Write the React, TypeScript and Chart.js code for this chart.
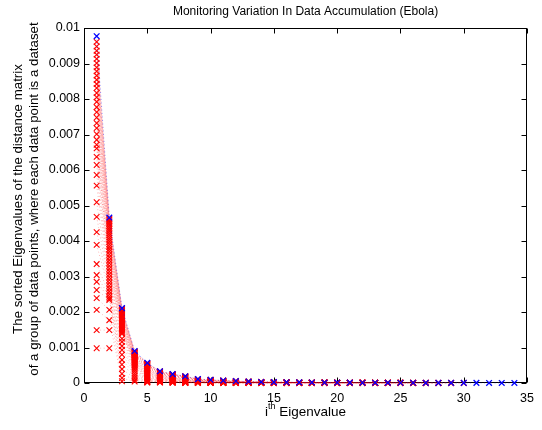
import React, { useEffect, useRef } from "react";
import { Chart, registerables } from "chart.js";

Chart.register(...registerables);

// ---------- text ----------
const chartTitle = "Monitoring Variation In Data Accumulation (Ebola)";
const yTitleLine1 = "The sorted Eigenvalues of the distance matrix";
const yTitleLine2 = "of a group of data points, where each data point is a dataset";
const xTitleBase = "i";
const xTitleSup = "th";
const xTitleRest = " Eigenvalue";

// ---------- ticks ----------
const xTickValues = [0, 5, 10, 15, 20, 25, 30, 35];
const yTickValues = [0, 0.001, 0.002, 0.003, 0.004, 0.005, 0.006, 0.007, 0.008, 0.009, 0.01];

// all eigenvalues below are in units of 1e-4
const valueUnit = 1e-4;

// final (blue) dataset: 34 sorted eigenvalues
const finalEigenvalues = [
  97.7, 46.6, 21.1, 9.0, 5.7, 3.3, 2.5, 1.9, 1.1, 0.9, 0.7, 0.55, 0.4, 0.3, 0.25, 0.2, 0.18,
  0.15, 0.13, 0.12, 0.1, 0.09, 0.08, 0.07, 0.06, 0.05, 0.045, 0.04, 0.035, 0.03, 0.025, 0.02,
  0.015, 0.01,
];

// intermediate (red) datasets: k-th sorted eigenvalue of each dataset (one entry per dataset)
const eig01 = [96.1, 94.8, 93.6, 92.5, 91.3, 90.1, 88.9, 87.8, 86.6, 85.4, 84.2, 83.1, 81.7, 80.5, 79.2, 77.7, 76.3, 74.8, 73.2, 71.8, 70.1, 68.5, 67.1, 66.1, 63.7, 61.4, 58.6, 55.6, 50.9, 46.8, 42.5, 38.9, 33.5, 30.4, 28.5, 26.2, 23.9, 20.6, 14.9, 9.8];
const eig02 = [46.3, 46.0, 45.6, 45.2, 44.8, 44.3, 43.8, 43.3, 42.8, 42.2, 41.6, 41.0, 40.4, 39.8, 39.1, 38.4, 37.7, 37.0, 36.2, 35.4, 34.6, 33.8, 33.0, 32.2, 31.4, 30.6, 29.8, 29.0, 28.2, 27.4, 26.6, 25.8, 25.0, 24.3, 23.8, 23.4, 20.6, 17.7, 14.9, 9.8];
const eig03 = [21.0, 20.8, 20.6, 20.4, 20.2, 20.0, 19.8, 19.5, 19.2, 18.9, 18.6, 18.3, 18.0, 17.7, 17.4, 17.1, 16.8, 16.5, 16.2, 15.9, 15.6, 15.3, 15.0, 14.7, 14.4, 14.1, 13.8, 12.5, 11.6, 10.4, 9.3, 8.0, 6.5, 5.2, 3.9, 2.6, 1.4, 0.5];
const eig04 = [8.9, 8.8, 8.7, 8.6, 8.5, 8.4, 8.3, 8.2, 8.0, 7.9, 7.8, 7.6, 7.5, 7.3, 7.2, 7.0, 6.9, 6.7, 6.6, 6.4, 6.2, 6.0, 5.9, 5.7, 5.5, 5.3, 5.1, 4.9, 4.6, 4.2, 3.7, 3.2, 2.6, 2.0, 1.4, 0.8, 0.4];
const eig05 = [5.6, 5.5, 5.4, 5.3, 5.2, 5.1, 5.0, 4.9, 4.8, 4.6, 4.5, 4.3, 4.2, 4.0, 3.9, 3.7, 3.5, 3.3, 3.1, 2.9, 2.7, 2.5, 2.3, 2.1, 1.9, 1.7, 1.5, 1.3, 1.1, 0.9, 0.7, 0.5, 0.4, 0.3, 0.2, 0.1];
const eig06 = [3.3, 3.2, 3.2, 3.1, 3.0, 2.9, 2.9, 2.8, 2.7, 2.6, 2.5, 2.4, 2.3, 2.2, 2.1, 2.0, 1.9, 1.8, 1.7, 1.6, 1.5, 1.4, 1.3, 1.2, 1.1, 1.0, 0.9, 0.8, 0.6, 0.5, 0.4, 0.3, 0.2, 0.1];
const eig07 = [2.5, 2.4, 2.4, 2.3, 2.3, 2.2, 2.1, 2.0, 2.0, 1.9, 1.8, 1.7, 1.6, 1.5, 1.4, 1.3, 1.2, 1.1, 1.0, 0.9, 0.8, 0.7, 0.6, 0.5, 0.45, 0.4, 0.35, 0.3, 0.2, 0.15, 0.1, 0.05];
const eig08 = [1.9, 1.85, 1.8, 1.75, 1.7, 1.6, 1.5, 1.45, 1.4, 1.3, 1.2, 1.1, 1.0, 0.95, 0.9, 0.8, 0.7, 0.6, 0.5, 0.45, 0.4, 0.35, 0.3, 0.25, 0.2, 0.15, 0.12, 0.1, 0.08, 0.05, 0.02];
const eig09 = [1.1, 1.05, 1.0, 0.95, 0.9, 0.85, 0.8, 0.75, 0.7, 0.65, 0.6, 0.55, 0.5, 0.45, 0.4, 0.35, 0.3, 0.28, 0.25, 0.22, 0.2, 0.17, 0.15, 0.12, 0.1, 0.08, 0.06, 0.04, 0.02];
const eig10 = [0.9, 0.85, 0.8, 0.75, 0.7, 0.65, 0.6, 0.55, 0.5, 0.45, 0.4, 0.36, 0.32, 0.28, 0.25, 0.22, 0.2, 0.18, 0.16, 0.14, 0.12, 0.1, 0.08, 0.06, 0.05, 0.04, 0.03, 0.02];
const eig11 = [0.7, 0.66, 0.62, 0.58, 0.54, 0.5, 0.46, 0.42, 0.38, 0.34, 0.3, 0.27, 0.24, 0.21, 0.18, 0.16, 0.14, 0.12, 0.1, 0.08, 0.07, 0.06, 0.05, 0.04, 0.03, 0.02, 0.01];
const eig12 = [0.55, 0.52, 0.49, 0.46, 0.43, 0.4, 0.37, 0.34, 0.31, 0.28, 0.25, 0.22, 0.2, 0.18, 0.16, 0.14, 0.12, 0.1, 0.08, 0.07, 0.06, 0.05, 0.04, 0.03, 0.02, 0.01];
const eig13 = [0.4, 0.38, 0.36, 0.34, 0.32, 0.3, 0.28, 0.26, 0.24, 0.22, 0.2, 0.18, 0.16, 0.14, 0.12, 0.1, 0.09, 0.08, 0.07, 0.06, 0.05, 0.04, 0.03, 0.02, 0.01];
const eig14 = [0.3, 0.28, 0.27, 0.26, 0.24, 0.22, 0.2, 0.18, 0.16, 0.15, 0.14, 0.12, 0.1, 0.09, 0.08, 0.07, 0.06, 0.05, 0.04, 0.03, 0.02, 0.015, 0.01, 0.005];
const eig15 = [0.25, 0.24, 0.23, 0.22, 0.2, 0.18, 0.16, 0.15, 0.14, 0.12, 0.1, 0.09, 0.08, 0.07, 0.06, 0.05, 0.04, 0.03, 0.025, 0.02, 0.015, 0.01, 0.005];
const eig16 = [0.2, 0.19, 0.18, 0.17, 0.16, 0.15, 0.14, 0.12, 0.11, 0.1, 0.09, 0.08, 0.07, 0.06, 0.05, 0.04, 0.03, 0.025, 0.02, 0.015, 0.01, 0.005];
const eig17 = [0.18, 0.17, 0.16, 0.15, 0.14, 0.13, 0.12, 0.11, 0.1, 0.09, 0.08, 0.07, 0.06, 0.05, 0.04, 0.03, 0.025, 0.02, 0.015, 0.01, 0.005];
const eig18 = [0.15, 0.14, 0.13, 0.12, 0.11, 0.1, 0.09, 0.08, 0.07, 0.06, 0.05, 0.045, 0.04, 0.035, 0.03, 0.025, 0.02, 0.015, 0.01, 0.005];
const eig19 = [0.13, 0.12, 0.11, 0.1, 0.09, 0.085, 0.08, 0.07, 0.06, 0.055, 0.05, 0.045, 0.04, 0.03, 0.025, 0.02, 0.015, 0.01, 0.005];
const eig20 = [0.12, 0.11, 0.1, 0.09, 0.085, 0.08, 0.07, 0.06, 0.055, 0.05, 0.045, 0.04, 0.03, 0.025, 0.02, 0.015, 0.01, 0.005];
const eig21 = [0.1, 0.095, 0.09, 0.085, 0.08, 0.07, 0.06, 0.055, 0.05, 0.045, 0.04, 0.03, 0.025, 0.02, 0.015, 0.01, 0.005];
const eig22 = [0.09, 0.085, 0.08, 0.075, 0.07, 0.06, 0.055, 0.05, 0.045, 0.04, 0.03, 0.025, 0.02, 0.015, 0.01, 0.005];
const eig23 = [0.08, 0.075, 0.07, 0.065, 0.06, 0.055, 0.05, 0.045, 0.04, 0.03, 0.025, 0.02, 0.015, 0.01, 0.005];
const eig24 = [0.07, 0.065, 0.06, 0.055, 0.05, 0.045, 0.04, 0.035, 0.03, 0.025, 0.02, 0.015, 0.01, 0.005];
const eig25 = [0.06, 0.055, 0.05, 0.045, 0.04, 0.035, 0.03, 0.025, 0.02, 0.015, 0.01, 0.005];
const eig26 = [0.05, 0.045, 0.04, 0.035, 0.03, 0.025, 0.02, 0.015, 0.01, 0.005];
const eig27 = [0.04, 0.035, 0.03, 0.025, 0.02, 0.015, 0.01, 0.005];
const eig28 = [0.03, 0.025, 0.02, 0.015, 0.01, 0.005];
const eig29 = [0.02, 0.015, 0.01, 0.005];
const eig30 = [0.01, 0.005];

const rankColumns = [
  eig01, eig02, eig03, eig04, eig05, eig06, eig07, eig08, eig09, eig10,
  eig11, eig12, eig13, eig14, eig15, eig16, eig17, eig18, eig19, eig20,
  eig21, eig22, eig23, eig24, eig25, eig26, eig27, eig28, eig29, eig30,
];

const FONT = '"Liberation Sans", Arial, Helvetica, sans-serif';

function buildRedDatasets() {
  const count = eig01.length;
  const sets: any[] = [];
  for (let j = 0; j < count; j++) {
    const pts: { x: number; y: number }[] = [];
    for (let k = 0; k < rankColumns.length; k++) {
      const v = rankColumns[k][j];
      if (v === undefined) break;
      pts.push({ x: k + 1, y: v * valueUnit });
    }
    sets.push({
      data: pts,
      order: 1,
      borderColor: "rgba(255,0,0,0.35)",
      borderWidth: 0.8,
      borderDash: [1, 2.5],
      pointStyle: "crossRot",
      pointRadius: 4,
      pointBorderColor: "#ff0000",
      pointBackgroundColor: "#ff0000",
      pointBorderWidth: 1.1,
      showLine: true,
      clip: false,
    });
  }
  return sets;
}

const framePlugin = {
  id: "matlabFrame",
  beforeDatasetsDraw(chart: any) {
    const { ctx, chartArea: a, scales } = chart;
    ctx.save();
    ctx.strokeStyle = "#000";
    ctx.lineWidth = 1;
    const L = Math.round(a.left) + 0.5;
    const R = Math.round(a.right) - 0.5;
    const T = Math.round(a.top) + 0.5;
    const B = Math.round(a.bottom) - 0.5;
    ctx.strokeRect(L, T, R - L, B - T);
    ctx.beginPath();
    for (const v of xTickValues) {
      const px = Math.round(scales.x.getPixelForValue(v)) + 0.5;
      ctx.moveTo(px, B);
      ctx.lineTo(px, B - 5);
      ctx.moveTo(px, T);
      ctx.lineTo(px, T + 5);
    }
    for (const v of yTickValues) {
      const py = Math.round(scales.y.getPixelForValue(v)) + 0.5;
      ctx.moveTo(L, py);
      ctx.lineTo(L + 5, py);
      ctx.moveTo(R, py);
      ctx.lineTo(R - 5, py);
    }
    ctx.stroke();
    ctx.restore();
  },
  afterDraw(chart: any) {
    const { ctx, chartArea: a } = chart;
    const cx = (a.left + a.right) / 2;
    ctx.save();
    ctx.fillStyle = "#000";
    ctx.textBaseline = "middle";
    ctx.textAlign = "center";
    ctx.font = `12px ${FONT}`;
    ctx.fillText(chartTitle, cx, 12);

    // y-axis title (two rotated lines)
    ctx.font = `13.3px ${FONT}`;
    const cy = 199;
    ctx.save();
    ctx.translate(18, cy);
    ctx.rotate(-Math.PI / 2);
    ctx.fillText(yTitleLine1, 0, 0);
    ctx.restore();
    ctx.save();
    ctx.translate(34, cy);
    ctx.rotate(-Math.PI / 2);
    ctx.fillText(yTitleLine2, 0, 0);
    ctx.restore();

    // x-axis title with superscript
    const mainFont = `13.5px ${FONT}`;
    const supFont = `9px ${FONT}`;
    ctx.font = mainFont;
    const wBase = ctx.measureText(xTitleBase).width;
    const wRest = ctx.measureText(xTitleRest).width;
    ctx.font = supFont;
    const wSup = ctx.measureText(xTitleSup).width;
    const total = wBase + wSup + wRest;
    let x = cx - total / 2;
    const y = 412;
    ctx.textAlign = "left";
    ctx.font = mainFont;
    ctx.fillText(xTitleBase, x, y);
    x += wBase;
    ctx.font = supFont;
    ctx.fillText(xTitleSup, x, y - 5);
    x += wSup;
    ctx.font = mainFont;
    ctx.fillText(xTitleRest, x, y);
    ctx.restore();
  },
};

export default function App() {
  const canvasRef = useRef<HTMLCanvasElement | null>(null);

  useEffect(() => {
    if (!canvasRef.current) return;
    const blue = {
      data: finalEigenvalues.map((v, i) => ({ x: i + 1, y: v * valueUnit })),
      order: 0,
      borderColor: "rgba(0,0,255,0.5)",
      borderWidth: 0.8,
      borderDash: [1, 2.5],
      pointStyle: "crossRot",
      pointRadius: 4,
      pointBorderColor: "#0000ff",
      pointBackgroundColor: "#0000ff",
      pointBorderWidth: 1.3,
      showLine: true,
      clip: false,
    };
    const chart = new Chart(canvasRef.current, {
      type: "scatter",
      data: { datasets: [blue, ...buildRedDatasets()] as any },
      options: {
        responsive: false,
        animation: false,
        events: [],
        layout: { padding: { left: 0, top: 28, right: 9, bottom: 0 } },
        plugins: {
          legend: { display: false },
          tooltip: { enabled: false },
          title: { display: false },
        },
        scales: {
          x: {
            type: "linear",
            min: 0,
            max: 35,
            afterBuildTicks: (scale: any) => {
              scale.ticks = xTickValues.map((v) => ({ value: v }));
            },
            afterFit: (scale: any) => {
              scale.height = 47;
            },
            grid: { display: false, drawTicks: false },
            border: { display: false },
            ticks: {
              color: "#000",
              font: { family: FONT, size: 12.5 },
              padding: 8,
              maxRotation: 0,
              autoSkip: false,
              callback: (v: any) => String(v),
            },
          },
          y: {
            type: "linear",
            min: 0,
            max: 0.01,
            afterBuildTicks: (scale: any) => {
              scale.ticks = yTickValues.map((v) => ({ value: v }));
            },
            afterFit: (scale: any) => {
              scale.width = 84;
            },
            grid: { display: false, drawTicks: false },
            border: { display: false },
            ticks: {
              color: "#000",
              font: { family: FONT, size: 12.5 },
              padding: 4,
              autoSkip: false,
              callback: (v: any) => String(Number(Number(v).toFixed(3))),
            },
          },
        },
      },
      plugins: [framePlugin],
    });
    return () => chart.destroy();
  }, []);

  return (
    <div style={{ position: "fixed", left: 0, top: 0, width: 542, height: 430, background: "#fff" }}>
      <canvas ref={canvasRef} width={542} height={430} style={{ display: "block" }} />
    </div>
  );
}
